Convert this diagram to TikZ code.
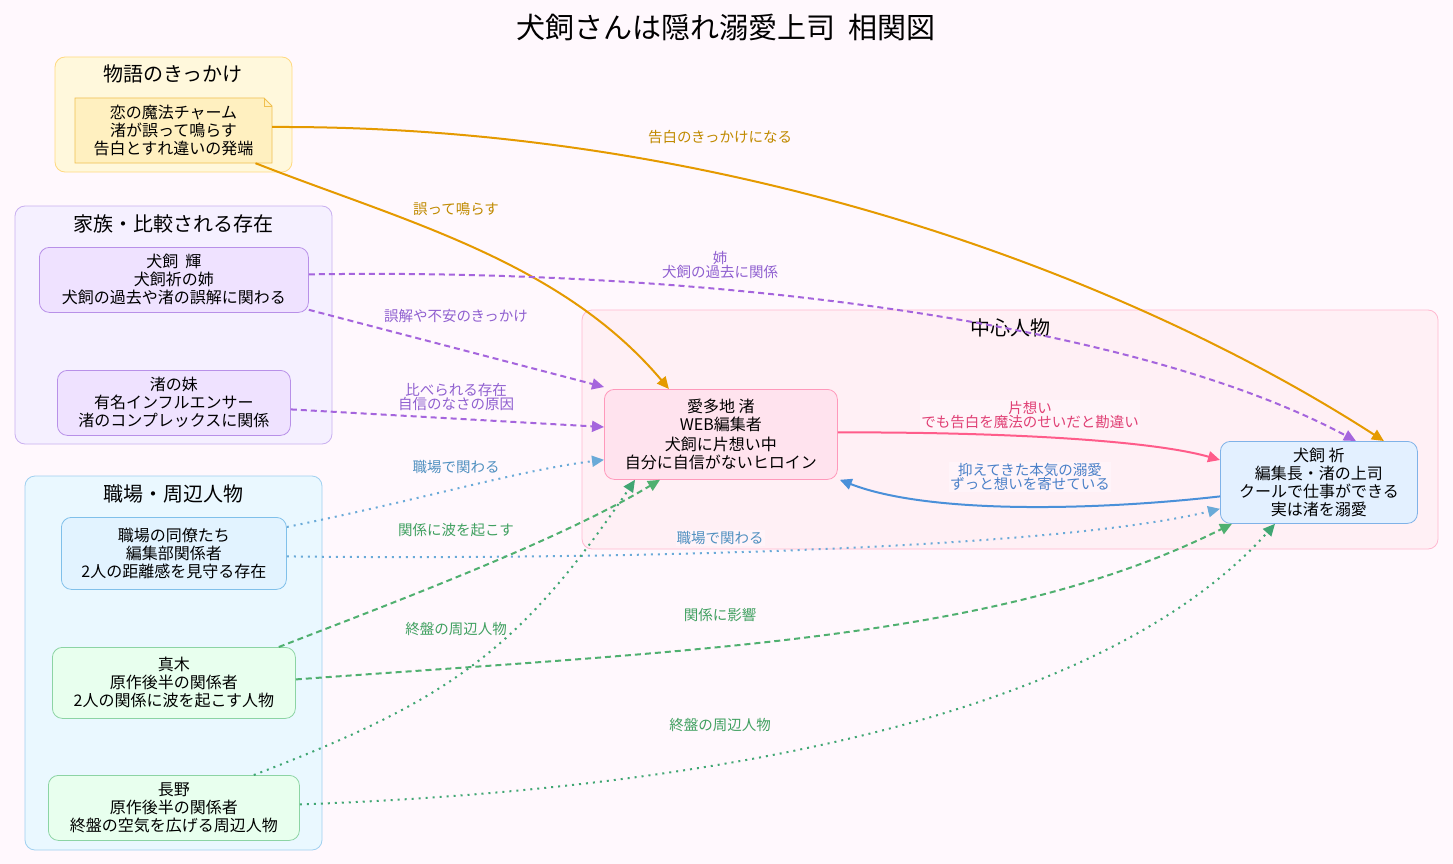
\documentclass[tikz,border=0pt]{standalone}
\usepackage{fontspec}
\setmainfont{Noto Sans CJK JP}
\usetikzlibrary{arrows.meta,shapes.misc}
\definecolor{bg}{HTML}{FFF8FD}
\definecolor{orn}{HTML}{E59A00}\definecolor{ornt}{HTML}{C08A00}
\definecolor{pur}{HTML}{A565DD}\definecolor{purt}{HTML}{9060D0}
\definecolor{pnk}{HTML}{FF5C8A}\definecolor{pnkt}{HTML}{E04075}
\definecolor{blu}{HTML}{4A90D9}\definecolor{blut}{HTML}{4A80C8}
\definecolor{lbl}{HTML}{6AAAD8}\definecolor{lblt}{HTML}{5090C0}
\definecolor{grn}{HTML}{50B070}\definecolor{grnt}{HTML}{40A060}
\tikzset{
 grp/.style={line width=0.8pt, rounded corners=10pt},
 person/.style={draw, line width=0.8pt, rounded corners=10pt, align=center, font=\fontsize{16}{18}\selectfont, inner sep=0pt, anchor=north west},
 gt/.style={font=\fontsize{20}{23}\selectfont},
 lab/.style={font=\fontsize{14.5}{16}\selectfont, align=center, fill=bg, fill opacity=0.6, text opacity=1, inner sep=1pt},
 tip/.style={-{Triangle[length=12pt,width=11pt]}},
 sol/.style={tip, line width=2pt},
 dsh/.style={tip, line width=2pt, dash pattern=on 6pt off 4pt},
 dot/.style={tip, line width=2pt, dash pattern=on 2pt off 5pt},
}
\begin{document}
\begin{tikzpicture}[x=1pt,y=-1pt]
\fill[bg] (0,0) rectangle (1453,864);
\useasboundingbox (0,0) rectangle (1453,864);
\node[font=\fontsize{29}{32}\selectfont] (title) at (726,27) {犬飼さんは隠れ溺愛上司\ \ 相関図};
% groups
\draw[grp, draw={rgb,255:red,255;green,217;blue,128}, fill={rgb,255:red,255;green,248;blue,220}] (55,57) rectangle (292,172);
\node[gt] (g1) at (173,74) {物語のきっかけ};
\draw[grp, draw={rgb,255:red,201;green,176;blue,240}, fill={rgb,255:red,245;green,240;blue,255}] (15,206) rectangle (332,444);
\node[gt] (g2) at (173,224) {家族・比較される存在};
\draw[grp, draw={rgb,255:red,160;green,208;blue,240}, fill={rgb,255:red,234;green,248;blue,255}] (25,476) rectangle (322,850);
\node[gt] (g3) at (173,494) {職場・周辺人物};
\draw[grp, draw={rgb,255:red,255;green,184;blue,208}, fill={rgb,255:red,255;green,240;blue,245}] (582,310) rectangle (1438,549);
\node[gt] (g4) at (1010,328) {中心人物};
% note
\draw[fill={rgb,255:red,255;green,240;blue,192}, draw={rgb,255:red,240;green,192;blue,80}, line width=0.8pt] (75,98) -- (264,98) -- (272,106) -- (272,163) -- (75,163) -- cycle;
\draw[draw={rgb,255:red,240;green,192;blue,80}, line width=0.8pt] (264,98) -- (264,106) -- (272,106);
\node[align=center, font=\fontsize{16}{18}\selectfont, minimum width=197pt, minimum height=65pt, inner sep=0pt] (note) at (173.5,130.5) {恋の魔法チャーム\\渚が誤って鳴らす\\告白とすれ違いの発端};
% persons
\tikzset{pv/.style={person, fill={rgb,255:red,239;green,226;blue,255}, draw={rgb,255:red,184;green,144;blue,232}},
 pg/.style={person, fill={rgb,255:red,232;green,255;blue,238}, draw={rgb,255:red,140;green,212;blue,164}}}
\node[pv, minimum width=269pt, minimum height=65pt] (kagayaki) at (39,247) {犬飼\ \ 輝\\犬飼祈の姉\\犬飼の過去や渚の誤解に関わる};
\node[pv, minimum width=233pt, minimum height=65pt] (imouto) at (57,370) {渚の妹\\有名インフルエンサー\\渚のコンプレックスに関係};
\node[person, fill={rgb,255:red,226;green,243;blue,255}, draw={rgb,255:red,128;green,192;blue,234}, minimum width=225pt, minimum height=72pt] (douryo) at (61,517) {職場の同僚たち\\編集部関係者\\2人の距離感を見守る存在};
\node[pg, minimum width=243pt, minimum height=71pt] (maki) at (52,647) {真木\\原作後半の関係者\\2人の関係に波を起こす人物};
\node[pg, minimum width=251pt, minimum height=65pt] (nagano) at (48,775) {長野\\原作後半の関係者\\終盤の空気を広げる周辺人物};
\node[person, fill={rgb,255:red,255;green,227;blue,238}, draw={rgb,255:red,255;green,153;blue,187}, minimum width=233pt, minimum height=90pt] (nagisa) at (604,389) {愛多地\ 渚\\WEB編集者\\[2pt]犬飼に片想い中\\自分に自信がないヒロイン};
\node[person, fill={rgb,255:red,227;green,240;blue,255}, draw={rgb,255:red,127;green,178;blue,232}, minimum width=197pt, minimum height=82pt] (inori) at (1220,441) {犬飼\ 祈\\編集長・渚の上司\\クールで仕事ができる\\実は渚を溺愛};
% edges
\draw[sol, orn] ([yshift=3.5pt]note.east) .. controls (750,125) and (1150,290) .. ([xshift=65pt]inori.north);
\node[lab, text=ornt] at (720,137) {告白のきっかけになる};
\draw[sol, orn] ([xshift=82pt]note.south) .. controls (400,220) and (560,260) .. ([xshift=-52pt]nagisa.north);
\node[lab, text=ornt] at (456,209) {誤って鳴らす};
\draw[dsh, pur] ([yshift=5.5pt]kagayaki.east) .. controls (700,268) and (1130,320) .. ([xshift=37pt]inori.north);
\node[lab, text=purt] at (720,265) {姉\\[-2pt]犬飼の過去に関係};
\draw[dsh, pur] ([yshift=3pt]kagayaki.south east) -- ([yshift=2pt]nagisa.north west);
\node[lab, text=purt] at (456,316) {誤解や不安のきっかけ};
\draw[dsh, pur] ([yshift=-6.5pt]imouto.east) -- ([yshift=-38pt]nagisa.north west);
\node[lab, text=purt] at (456,397) {比べられる存在\\[-2pt]自信のなさの原因};
\draw[sol, pnk] ([yshift=2pt]nagisa.east) .. controls (1000,432) and (1150,440) .. ([yshift=-19pt]inori.north west);
\node[lab, text=pnkt] at (1030,415) {片想い\\[-2pt]でも告白を魔法のせいだと勘違い};
\draw[sol, blu] ([yshift=-14pt]inori.west) .. controls (1100,510) and (930,515) .. ([xshift=2pt]nagisa.south east);
\node[lab, text=blut] at (1030,477) {抑えてきた本気の溺愛\\[-2pt]ずっと想いを寄せている};
\draw[dot, lbl] ([yshift=-10pt]douryo.north east) .. controls (420,500) and (520,470) .. ([yshift=20pt]nagisa.south west);
\node[lab, text=lblt] at (456,467) {職場で関わる};
\draw[dot, lbl] ([yshift=-3pt]douryo.east) .. controls (600,560) and (1050,550) .. ([yshift=15pt]inori.south west);
\node[lab, text=lblt] at (720,538) {職場で関わる};
\draw[dsh, grn] ([xshift=-17pt]maki.north east) .. controls (400,600) and (560,540) .. ([xshift=56pt]nagisa.south west);
\node[lab, text=grnt] at (456,530) {関係に波を起こす};
\draw[dsh, grn] ([yshift=3.5pt]maki.east) .. controls (700,650) and (1000,640) .. ([xshift=12pt]inori.south west);
\node[lab, text=grnt] at (720,615) {関係に影響};
\draw[dot, grn!80!teal] ([xshift=-46pt]nagano.north east) .. controls (450,700) and (520,650) .. ([xshift=31pt]nagisa.south west);
\node[lab, text=grnt] at (456,629) {終盤の周辺人物};
\draw[dot, grn!80!teal] ([yshift=3.5pt]nagano.east) .. controls (700,790) and (1100,720) .. ([xshift=55pt]inori.south west);
\node[lab, text=grnt] at (720,725) {終盤の周辺人物};
\end{tikzpicture}
\end{document}
